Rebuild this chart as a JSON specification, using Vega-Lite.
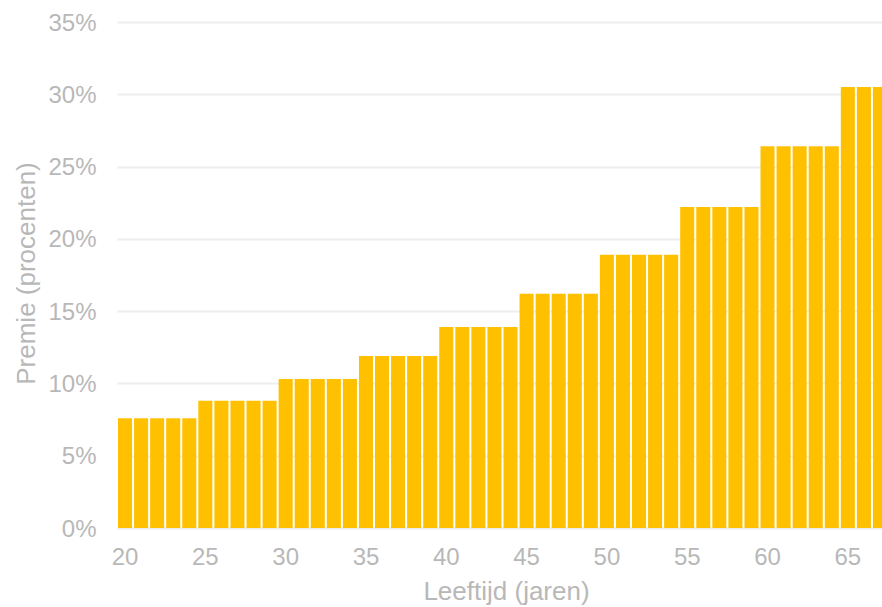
{
  "$schema": "https://vega.github.io/schema/vega-lite/v6.json",
  "autosize": "none",
  "width": 771,
  "height": 506,
  "padding": {"left": 117, "top": 22, "right": 0, "bottom": 79},
  "background": "white",
  "data": {"values": [
    {"age": 20, "premie": 0.076}, {"age": 21, "premie": 0.076}, {"age": 22, "premie": 0.076}, {"age": 23, "premie": 0.076}, {"age": 24, "premie": 0.076},
    {"age": 25, "premie": 0.088}, {"age": 26, "premie": 0.088}, {"age": 27, "premie": 0.088}, {"age": 28, "premie": 0.088}, {"age": 29, "premie": 0.088},
    {"age": 30, "premie": 0.103}, {"age": 31, "premie": 0.103}, {"age": 32, "premie": 0.103}, {"age": 33, "premie": 0.103}, {"age": 34, "premie": 0.103},
    {"age": 35, "premie": 0.119}, {"age": 36, "premie": 0.119}, {"age": 37, "premie": 0.119}, {"age": 38, "premie": 0.119}, {"age": 39, "premie": 0.119},
    {"age": 40, "premie": 0.139}, {"age": 41, "premie": 0.139}, {"age": 42, "premie": 0.139}, {"age": 43, "premie": 0.139}, {"age": 44, "premie": 0.139},
    {"age": 45, "premie": 0.162}, {"age": 46, "premie": 0.162}, {"age": 47, "premie": 0.162}, {"age": 48, "premie": 0.162}, {"age": 49, "premie": 0.162},
    {"age": 50, "premie": 0.189}, {"age": 51, "premie": 0.189}, {"age": 52, "premie": 0.189}, {"age": 53, "premie": 0.189}, {"age": 54, "premie": 0.189},
    {"age": 55, "premie": 0.222}, {"age": 56, "premie": 0.222}, {"age": 57, "premie": 0.222}, {"age": 58, "premie": 0.222}, {"age": 59, "premie": 0.222},
    {"age": 60, "premie": 0.264}, {"age": 61, "premie": 0.264}, {"age": 62, "premie": 0.264}, {"age": 63, "premie": 0.264}, {"age": 64, "premie": 0.264},
    {"age": 65, "premie": 0.305}, {"age": 66, "premie": 0.305}, {"age": 67, "premie": 0.305}
  ]},
  "mark": {"type": "bar", "color": "#FFC000"},
  "encoding": {
    "x": {
      "field": "age", "type": "ordinal",
      "scale": {"paddingInner": 0.125, "paddingOuter": 0.0625},
      "axis": {
        "title": "Leeftijd (jaren)",
        "values": [20, 25, 30, 35, 40, 45, 50, 55, 60, 65],
        "labelAngle": 0,
        "ticks": false,
        "domain": true,
        "domainColor": "#eeeeee",
        "domainWidth": 2,
        "labelPadding": 17,
        "titlePadding": 9,
        "titleX": 389,
        "titleAnchor": "middle"
      }
    },
    "y": {
      "field": "premie", "type": "quantitative",
      "scale": {"domain": [0, 0.35], "nice": false},
      "axis": {
        "title": "Premie (procenten)",
        "format": ".0%",
        "values": [0, 0.05, 0.1, 0.15, 0.2, 0.25, 0.3, 0.35],
        "ticks": false,
        "domain": false,
        "grid": true,
        "gridColor": "#eeeeee",
        "gridWidth": 2,
        "labelPadding": 21,
        "labelOffset": 1,
        "titlePadding": 8,
        "titleY": 251,
        "titleAnchor": "middle"
      }
    }
  },
  "config": {
    "view": {"stroke": null},
    "axis": {
      "labelFont": "Liberation Sans",
      "titleFont": "Liberation Sans",
      "labelFontSize": 24,
      "titleFontSize": 26,
      "titleFontWeight": "normal",
      "labelColor": "#b8b8b8",
      "titleColor": "#b8b8b8"
    }
  }
}
